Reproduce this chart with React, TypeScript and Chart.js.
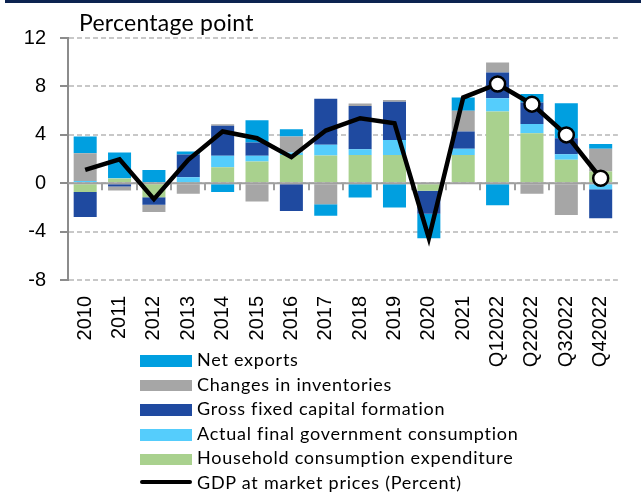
import React, { useEffect, useRef } from "react";
import { Chart, registerables } from "chart.js";

Chart.register(...registerables);

const categories = ["2010", "2011", "2012", "2013", "2014", "2015", "2016", "2017", "2018", "2019", "2020", "2021", "Q12022", "Q22022", "Q32022", "Q42022"];
const household = [-0.72, 0.38, -1.16, 0.05, 1.32, 1.79, 2.34, 2.28, 2.34, 2.34, -0.63, 2.34, 5.92, 4.13, 1.93, 0.96];
const government = [0.19, 0.05, 0, 0.45, 0.94, 0.47, 0.19, 0.89, 0.47, 1.24, 0, 0.5, 1.1, 0.77, 0.47, -0.5];
const gfcf = [-2.07, -0.28, -0.63, 1.87, 2.48, 1.1, -2.29, 3.8, 3.58, 3.16, -1.9, 1.43, 2.12, 1.76, 1.32, -2.39];
const inventories = [2.29, -0.33, -0.6, -0.88, 0.14, -1.52, 1.32, -1.74, 0.19, 0.14, 0, 1.71, 0.83, -0.88, -2.62, 1.88];
const netExports = [1.37, 2.1, 1.1, 0.25, -0.72, 1.84, 0.61, -0.96, -1.19, -2.01, -2.02, 1.1, -1.82, 0.72, 2.89, 0.41];
const gdp = [1.1, 1.98, -1.32, 1.93, 4.27, 3.72, 2.15, 4.35, 5.37, 4.96, -4.55, 7.08, 8.2, 6.53, 3.99, 0.41];
const yTicks = [12, 8, 4, 0, -4, -8];

const COLORS = {
  household: "#a9d18e",
  government: "#55cdfc",
  gfcf: "#1f4aa0",
  inventories: "#a6a6a6",
  netExports: "#009fe0",
  gdp: "#000000",
};

const legendItems = [
  { label: "Net exports", color: COLORS.netExports, line: false },
  { label: "Changes in inventories", color: COLORS.inventories, line: false },
  { label: "Gross fixed capital formation", color: COLORS.gfcf, line: false },
  { label: "Actual final government consumption", color: COLORS.government, line: false },
  { label: "Household consumption expenditure", color: COLORS.household, line: false },
  { label: "GDP at market prices (Percent)", color: COLORS.gdp, line: true },
];

const zeroAxis = {
  id: "zeroAxis",
  beforeDatasetDraw(chart: any, args: any) {
    if (args.index !== 5) return;
    const { ctx, chartArea, scales } = chart;
    const x = scales.x;
    const y = scales.y;
    const y0 = y.getPixelForValue(0);
    ctx.save();
    ctx.strokeStyle = "#a0a0a0";
    ctx.lineWidth = 2;
    ctx.beginPath();
    ctx.moveTo(chartArea.left, y0);
    ctx.lineTo(chartArea.right, y0);
    for (let i = 1; i < categories.length; i++) {
      const px = Math.round((x.getPixelForValue(i - 1) + x.getPixelForValue(i)) / 2);
      ctx.moveTo(px, y0);
      ctx.lineTo(px, y0 + 7);
    }
    ctx.stroke();
    ctx.restore();
  },
};

const FONT = "Lato, 'Noto Sans', sans-serif";
const LEG_FS = 18;

export default function App() {
  const ref = useRef<HTMLCanvasElement | null>(null);

  useEffect(() => {
    if (!ref.current) return;
    const bar = (label: string, data: number[], color: string) => ({
      type: "bar" as const,
      label,
      data,
      backgroundColor: color,
      borderWidth: 0,
      order: 1,
      stack: "s",
    });
    const chart = new Chart(ref.current, {
      type: "bar",
      data: {
        labels: categories,
        datasets: [
          bar("Household consumption expenditure", household, COLORS.household),
          bar("Actual final government consumption", government, COLORS.government),
          bar("Gross fixed capital formation", gfcf, COLORS.gfcf),
          bar("Changes in inventories", inventories, COLORS.inventories),
          bar("Net exports", netExports, COLORS.netExports),
          {
            type: "line" as const,
            label: "GDP at market prices (Percent)",
            data: gdp,
            borderColor: COLORS.gdp,
            borderWidth: 4.5,
            tension: 0,
            order: 0,
            stack: "gdp",
            pointRadius: categories.map((c) => (c.startsWith("Q") ? 7.5 : 0)),
            pointHoverRadius: 0,
            pointBackgroundColor: "#ffffff",
            pointBorderColor: "#000000",
            pointBorderWidth: 2.5,
          } as any,
        ],
      },
      options: {
        animation: false,
        responsive: false,
        maintainAspectRatio: false,
        layout: { padding: { top: 38, right: 1, left: 0, bottom: 0 } },
        datasets: { bar: { categoryPercentage: 1, barPercentage: 0.67 } },
        plugins: {
          legend: { display: false },
          tooltip: { enabled: false },
          title: { display: false },
        },
        scales: {
          x: {
            stacked: true,
            grid: { display: false, drawTicks: false },
            border: { display: false },
            ticks: {
              minRotation: 90,
              maxRotation: 90,
              autoSkip: false,
              padding: 16,
              color: "#000000",
              font: { family: "'Liberation Sans', Arial, sans-serif", size: 20 },
            },
            afterFit(axis: any) {
              axis.height = 213;
            },
          },
          y: {
            stacked: true,
            min: -8,
            max: 12,
            afterBuildTicks(axis: any) {
              axis.ticks = yTicks.map((v) => ({ value: v }));
            },
            grid: {
              color: "#c8c8c8",
              lineWidth: 2,
              drawTicks: true,
              tickLength: 8,
              tickColor: "#8c8c8c",
              tickWidth: 2,
            },
            border: { display: true, color: "#8c8c8c", width: 2, dash: [5, 3] },
            ticks: {
              padding: 14,
              color: "#000000",
              font: { family: "'Liberation Sans', Arial, sans-serif", size: 20 },
            },
            afterFit(axis: any) {
              axis.width = 68;
            },
          },
        },
      },
      plugins: [zeroAxis],
    });
    return () => chart.destroy();
  }, []);

  const baselines = [366.7, 391.3, 416, 440.6, 465.2, 489.9];

  return (
    <div style={{ position: "absolute", left: 0, top: 0, width: 641, height: 493, background: "#ffffff", overflow: "hidden" }}>
      <div style={{ position: "absolute", left: 5, top: 0, width: 636, height: 3, background: "#0c2350" }} />
      <canvas ref={ref} width={641} height={493} style={{ position: "absolute", left: 0, top: 0 }} />
      <div
        style={{
          position: "absolute",
          left: 79,
          top: 31.7 - 0.987 * 23,
          fontFamily: FONT,
          fontSize: 23,
          lineHeight: 1.2,
          letterSpacing: 0.25,
          color: "#000",
          whiteSpace: "nowrap",
        }}
      >
        Percentage point
      </div>
      {legendItems.map((it, i) => {
        const b = baselines[i];
        return (
          <React.Fragment key={it.label}>
            {it.line ? (
              <div style={{ position: "absolute", left: 140, top: b - 10, width: 52, height: 4.5, background: it.color, borderRadius: 2 }} />
            ) : (
              <div style={{ position: "absolute", left: 140, top: b - 11.7, width: 52, height: 11.7, background: it.color }} />
            )}
            <div
              style={{
                position: "absolute",
                left: 197,
                top: b - 0.987 * LEG_FS,
                fontFamily: FONT,
                fontSize: LEG_FS,
                lineHeight: 1.2,
                letterSpacing: 0.75,
                color: "#000",
                whiteSpace: "nowrap",
              }}
            >
              {it.label}
            </div>
          </React.Fragment>
        );
      })}
    </div>
  );
}
